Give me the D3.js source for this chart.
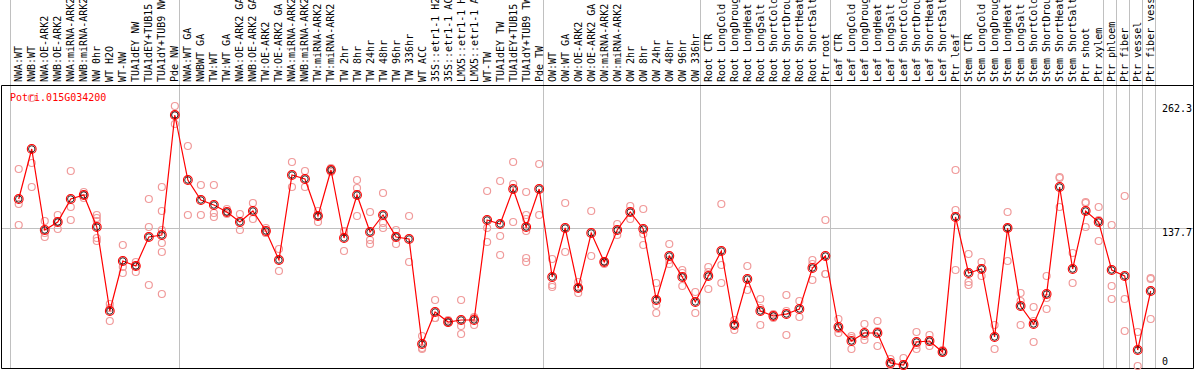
<!DOCTYPE html>
<html>
<head>
<meta charset="utf-8">
<script src="https://cdn.jsdelivr.net/npm/d3@7"></script>
<style>
  body{margin:0;background:#fff;}
  .canvas{width:1194px;height:370px;}
  text{font-family:"DejaVu Sans Mono",monospace;font-size:10px;}
</style>
</head>
<body>
<div class="canvas" id="canvas"></div>
<script>
//sample labels, one per column
var labels = ['NWA:WT','NWB:WT','NWA:OE-ARK2','NWB:OE-ARK2','NWA:miRNA-ARK2','NWB:miRNA-ARK2','NW 0hr','WT H2O','WT-NW','TUA1dEY NW','TUA1dEY+TUB15','TUA1dY+TUB9 NW','Pde NW',
  'NWA:WT GA','NWBWT GA','TW:WT','TW:WT GA','NWA:OE-ARK2 GA','NWB:OE-ARK2 GA','TW:OE-ARK2','TW:OE-ARK2 GA','NWA:miRNA-ARK2','NWB:miRNA-ARK2','TW:miRNA-ARK2','TW:miRNA-ARK2',
  'TW 2hr','TW 8hr','TW 24hr','TW 48hr','TW 96hr','TW 336hr','WT ACC','35S::etr1-1 H2','35S::etr1-1 AC','LMX5::etr1-1 H','LMX5::etr1-1 A','WT-TW','TUA1dEY TW','TUA1dEY+TUB15','TUA1dY+TUB9 TW','Pde TW',
  'OW:WT','OW:WT GA','OW:OE-ARK2','OW:OE-ARK2 GA','OW:miRNA-ARK2','OW:miRNA-ARK2','OW 2hr','OW 8hr','OW 24hr','OW 48hr','OW 96hr','OW 336hr',
  'Root CTR','Root LongCold','Root LongDroug','Root LongHeat','Root LongSalt','Root ShortCold','Root ShortDrou','Root ShortHeat','Root ShortSalt','Ptr root',
  'Leaf CTR','Leaf LongCold','Leaf LongDroug','Leaf LongHeat','Leaf LongSalt','Leaf ShortCold','Leaf ShortDrou','Leaf ShortHeat','Leaf ShortSalt','Ptr leaf',
  'Stem CTR','Stem LongCold','Stem LongDroug','Stem LongHeat','Stem LongSalt','Stem ShortCold','Stem ShortDrou','Stem ShortHeat','Stem ShortSalt','Ptr shoot','Ptr xylem',
  'Ptr phloem','Ptr fiber','Ptr vessel','Ptr fiber vess'];

//number of columns in each experiment block
var groupSizes = [13,28,12,10,10,11,1,1,1,1];

//mean expression per column
var means = [167,217,136,144,167,171,139,55,105,100,129,131,251,
  186,166,161,154,144,155,135,106,191,187,150,196,128,171,134,151,129,127,22,54,44,46,46,146,142,177,139,177,
  89,138,78,133,104,136,154,137,66,110,89,64,
  90,115,41,87,55,50,52,57,98,110,
  39,25,33,33,3,1,24,25,14,149,
  93,97,29,138,60,42,72,179,97,155,144,
  96,90,16,75];

//replicate values per column
var reps = [[197,162,141],[268,203,179],[145,133,129],[151,144,137],[195,159,146],[174,171,168],[151,148,145,128,125],[62,58,45],[121,99,93],[104,100,94],[167,139,81],[179,155,136,123,114,72],[260,251,242],
  [220,151],[181,151],[181,153,149],[157,154,152],[152,136],[163,147],[138,133,133],[117,95],[204,179],[195,179],[155,150,144],[198,196,194],[135,134,115],[186,178,150],[154,126,122],[173,143,138],[136,130,122],[150,104],[30,18,17],[66,48,48],[46,44,43],[66,40,32],[49,48,41],[175,138,124],[185,130,111],[204,182,144],[174,151,147,135,108,104],[202,151],
  [107,81,79],[163,114],[84,78,73],[155,110],[105,104,102],[142,131],[160,147],[157,132,121],[83,61,53],[122,106,102],[96,93,80],[74,53],
  [99,94,77],[162,101,83],[46,41,36],[100,76],[67,58,41],[52,50,48],[71,55,31],[65,49],[106,102,86],[146,92,92],
  [47,37,33],[30,28,17],[42,30,26],[45,35,20],[7,2,1],[8,0,0],[34,21,17],[31,24,20],[16,14,13],[196,156,96],
  [112,84,81],[104,90],[41,17],[154,138,105],[73,65,41],[59,45,24],[90,68,57],[189,188,159],[113,83],[164,163,139],[159,146,125],
  [141,80,67],[170,67,35],[34,0],[88,87,47]];

var yTicks = [262.3,137.7,0];
var geneName = 'Potri.015G034200';

var W = 1194, H = 370;
var m = {t:85,l:10,r:1155,b:366};

var svg = d3.select('.canvas')
    .append('svg')
    .attr('width',W)
    .attr('height',H);

var scaleX = d3.scaleLinear().domain([0,labels.length]).range([m.l,m.r]);
var scaleY = d3.scaleLinear().domain([0,262.3]).range([m.b,m.b-262.3]);
var px = function(i){ return scaleX(i+0.67); };

//block boundaries
var bounds = [0];
groupSizes.forEach(function(s){ bounds.push(bounds[bounds.length-1]+s); });

svg.selectAll('.vgrid')
    .data(bounds)
    .enter().append('line')
    .attr('class','vgrid')
    .attr('x1',function(d){ return Math.round(scaleX(d))+0.5; })
    .attr('x2',function(d){ return Math.round(scaleX(d))+0.5; })
    .attr('y1',0).attr('y2',368)
    .style('stroke','#c0c0c0');

svg.append('line')
    .attr('x1',1).attr('x2',1193)
    .attr('y1',Math.round(scaleY(137.7))+0.5).attr('y2',Math.round(scaleY(137.7))+0.5)
    .style('stroke','#c0c0c0');

//frame
svg.append('path')
    .attr('d','M1.5,368.5V85.5H1193.5V368.5H1.5M1193.5,0V85.5')
    .style('fill','none').style('stroke','#000');

//column labels (long ones run off the top, as in the original)
svg.selectAll('.lab')
    .data(labels)
    .enter().append('text')
    .attr('class','lab')
    .attr('transform',function(d,i){ return 'translate(' + (px(i)+3.5) + ',82) rotate(-90)'; })
    .text(function(d){ return d; });

//y axis labels on the right
svg.selectAll('.ytick')
    .data(yTicks)
    .enter().append('text')
    .attr('class','ytick')
    .attr('x',1162)
    .attr('y',function(d){ return Math.min(scaleY(d)+8,365); })
    .text(function(d){ return d; });

svg.append('text')
    .attr('x',10).attr('y',101)
    .style('fill','#f00')
    .text(geneName);

//replicates
var repPts = [];
reps.forEach(function(r,i){ r.forEach(function(v){ repPts.push({i:i,v:v}); }); });

svg.selectAll('.rep')
    .data(repPts)
    .enter().append('circle')
    .attr('class','rep')
    .attr('cx',function(d){ return px(d.i); })
    .attr('cy',function(d){ return scaleY(d.v); })
    .attr('r',3.5)
    .style('fill','none')
    .style('stroke','#f09a9a')
    .style('stroke-width',1.2);

var line = d3.line()
    .x(function(d,i){ return px(i); })
    .y(function(d){ return scaleY(d); });

svg.append('path')
    .datum(means)
    .attr('d',line)
    .style('fill','none')
    .style('stroke','#f00')
    .style('stroke-width',1.2);

var meanG = svg.selectAll('.mean')
    .data(means)
    .enter().append('g')
    .attr('class','mean')
    .attr('transform',function(d,i){ return 'translate(' + px(i) + ',' + scaleY(d) + ')'; });

meanG.append('circle')
    .attr('r',4.4)
    .style('fill','none')
    .style('stroke','#f00')
    .style('stroke-width',1.1);

meanG.append('circle')
    .attr('r',3.2)
    .style('fill','none')
    .style('stroke','#000')
    .style('stroke-width',0.8);
</script>
</body>
</html>
